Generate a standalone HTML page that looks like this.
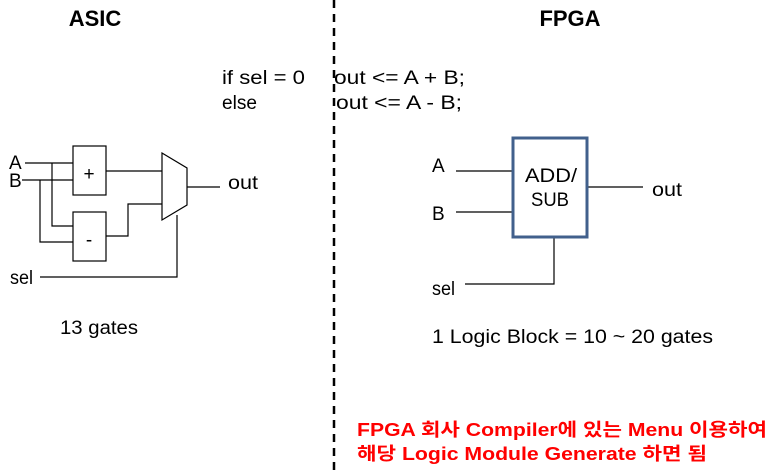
<!DOCTYPE html>
<html><head><meta charset="utf-8"><style>
html,body{margin:0;padding:0;background:#fff;}
svg{display:block;font-family:"Liberation Sans","Noto Sans CJK KR",sans-serif;}
</style></head><body>
<svg width="773" height="476" viewBox="0 0 773 476" xmlns="http://www.w3.org/2000/svg">
<line x1="334" y1="0" x2="334" y2="476" stroke="#000" stroke-width="2.5" stroke-dasharray="8,6"/>
<text x="95" y="26" font-size="22" font-weight="bold" text-anchor="middle">ASIC</text>
<text x="570" y="26" font-size="22" font-weight="bold" text-anchor="middle">FPGA</text>
<g font-size="19" fill="#000" lengthAdjust="spacingAndGlyphs">
<text x="222" y="84" textLength="83" lengthAdjust="spacingAndGlyphs">if sel = 0</text>
<text x="334" y="84" textLength="131" lengthAdjust="spacingAndGlyphs">out &lt;= A + B;</text>
<text x="222" y="109" textLength="35" lengthAdjust="spacingAndGlyphs">else</text>
<text x="336" y="109" textLength="126" lengthAdjust="spacingAndGlyphs">out &lt;= A - B;</text>
</g>
<g stroke="#000" stroke-width="1.2" fill="none">
<line x1="25" y1="163" x2="73" y2="163"/>
<line x1="22" y1="180" x2="73" y2="180"/>
<rect x="73" y="146" width="33" height="49" fill="#fff"/>
<rect x="73" y="212" width="33" height="49" fill="#fff"/>
<polyline points="52,163 52,226 73,226"/>
<polyline points="40,180 40,242 73,242"/>
<line x1="106" y1="171" x2="162" y2="171"/>
<polyline points="106,236 128,236 128,204 162,204"/>
<polygon points="162,153 187,168 187,205 162,220" fill="#fff"/>
<line x1="187" y1="187" x2="220" y2="187"/>
<polyline points="40,277 177,277 177,215"/>
</g>
<g font-size="19">
<text x="9" y="169">A</text>
<text x="9" y="187">B</text>
<text x="89" y="180" text-anchor="middle">+</text>
<text x="89" y="246" text-anchor="middle">-</text>
<text x="228" y="189" textLength="30" lengthAdjust="spacingAndGlyphs">out</text>
<text x="10" y="284" textLength="23" lengthAdjust="spacingAndGlyphs">sel</text>
<text x="60" y="334" textLength="78" lengthAdjust="spacingAndGlyphs">13 gates</text>
</g>
<g stroke="#000" stroke-width="1.2" fill="none">
<line x1="456" y1="171" x2="513" y2="171"/>
<line x1="456" y1="212" x2="513" y2="212"/>
<line x1="587" y1="187" x2="643" y2="187"/>
<polyline points="465,284 554,284 554,237"/>
</g>
<rect x="513" y="138" width="74" height="99" fill="#fff" stroke="#41608c" stroke-width="3"/>
<g font-size="19">
<text x="551" y="182" text-anchor="middle" textLength="52" lengthAdjust="spacingAndGlyphs">ADD/</text>
<text x="550" y="206" text-anchor="middle" textLength="38" lengthAdjust="spacingAndGlyphs">SUB</text>
<text x="432" y="172">A</text>
<text x="432" y="220">B</text>
<text x="652" y="196" textLength="30" lengthAdjust="spacingAndGlyphs">out</text>
<text x="432" y="295" textLength="23" lengthAdjust="spacingAndGlyphs">sel</text>
<text x="432" y="343" textLength="281" lengthAdjust="spacingAndGlyphs">1 Logic Block = 10 ~ 20 gates</text>
</g>
<g font-size="18" font-weight="bold" fill="#ff0000">
<text x="357" y="436" textLength="410" lengthAdjust="spacingAndGlyphs">FPGA 회사 Compiler에 있는 Menu 이용하여</text>
<text x="357" y="460" textLength="350" lengthAdjust="spacingAndGlyphs">해당 Logic Module Generate 하면 됨</text>
</g>
</svg>
</body></html>
